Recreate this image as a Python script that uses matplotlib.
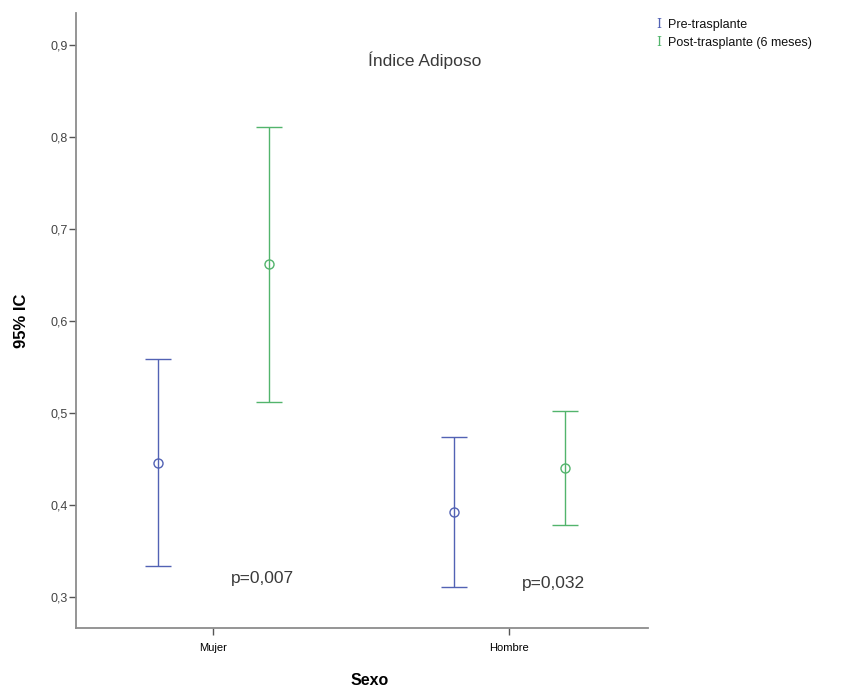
import matplotlib
matplotlib.use("Agg")
from matplotlib import pyplot as plt
import numpy as np

plt.rcParams['font.family'] = ['Liberation Sans', 'DejaVu Sans']

# data (95% CI for the mean)
categories = ["Mujer", "Hombre"]
series = ["Pre-trasplante", "Post-trasplante (6 meses)"]
pre_mean = [0.446, 0.392]
pre_low = [0.334, 0.311]
pre_high = [0.559, 0.474]
post_mean = [0.662, 0.440]
post_low = [0.512, 0.378]
post_high = [0.811, 0.502]
p_values = ["p=0,007", "p=0,032"]

BLUE = "#5262b4"
GREEN = "#52b46c"
AXIS = "#8c8c8c"

fig = plt.figure(figsize=(8.46, 6.89), dpi=100)
ax = fig.add_axes([76 / 846, 1 - 628 / 689, (648 - 76) / 846, (628 - 13) / 689])

x = np.arange(len(categories))
offset = 0.186

for i, (mean, lo, hi, color) in enumerate([
    (pre_mean, pre_low, pre_high, BLUE),
    (post_mean, post_low, post_high, GREEN),
]):
    mean = np.array(mean)
    err = [mean - np.array(lo), np.array(hi) - mean]
    xs = x - offset if i == 0 else x + offset
    ax.errorbar(xs, mean, yerr=err, fmt="o", color=color, ecolor=color,
                mfc="none", mec=color, ms=6.5, mew=1.0, elinewidth=1.0,
                capsize=9.5, capthick=1.0)

# p-value annotations
for xi, ptxt, yv in zip(x, p_values, [0.3196, 0.3152]):
    ax.text(xi + 0.165 if xi == 0 else xi + 0.150, yv, ptxt, ha="center", va="center",
            fontsize=12.5, color="#3a3a3a")

ax.set_xlim(-0.4645, 1.468)
ax.set_ylim(0.2663, 0.9348)
ax.set_xticks(x)
ax.set_xticklabels(categories, fontsize=8)
ax.set_yticks([0.3, 0.4, 0.5, 0.6, 0.7, 0.8, 0.9])
ax.set_yticklabels(["0,3", "0,4", "0,5", "0,6", "0,7", "0,8", "0,9"], fontsize=9, color="#444444")

for side in ["top", "right"]:
    ax.spines[side].set_visible(False)
for side in ["left", "bottom"]:
    ax.spines[side].set_color(AXIS)
    ax.spines[side].set_linewidth(1.3)
ax.tick_params(axis="y", length=5, width=1, color="#555555", pad=1)
ax.tick_params(axis="x", length=5, width=1, color="#555555", pad=6)

ax.set_xlabel("Sexo", fontsize=11.5, fontweight="bold")
ax.xaxis.set_label_coords(0.513, -0.073)
ax.set_ylabel("95% IC", fontsize=12, fontweight="bold")
ax.yaxis.set_label_coords(-0.083, 0.5)

fig.text(425 / 846, 1 - 60 / 689, "Índice Adiposo", ha="center", va="center",
         fontsize=12.5, color="#3a3a3a")

# legend drawn as text, SPSS style
for k, (name, color) in enumerate(zip(series, [BLUE, GREEN])):
    yy = 1 - (25 + 18 * k) / 689
    fig.text(656 / 846, yy, "I", color=color, fontsize=9, va="center", ha="left",
             family=["DejaVu Serif"])
    fig.text(668 / 846, yy, name, color="#111111", fontsize=9, va="center", ha="left")

fig.savefig("out.png", dpi=100, facecolor="white")
